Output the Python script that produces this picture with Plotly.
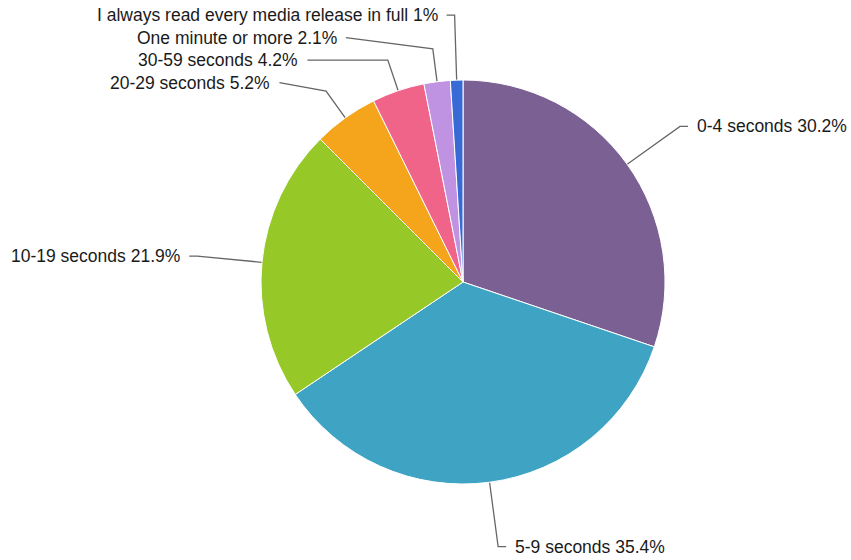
import math
import plotly.graph_objects as go

labels = ["0-4 seconds", "5-9 seconds", "10-19 seconds", "20-29 seconds",
          "30-59 seconds", "One minute or more", "I always read every media release in full"]
values = [30.2, 35.4, 21.9, 5.2, 4.2, 2.1, 1.0]
value_text = ["30.2%", "35.4%", "21.9%", "5.2%", "4.2%", "2.1%", "1%"]
colors = ["#7B6094", "#3FA3C3", "#96C828", "#F5A51B", "#F0648A", "#C092E2", "#386AD5"]

W, H = 851, 560
CX, CY, R = 463, 282, 202
LAB_R = 267      # natural label radius
END_R = 271      # connector end radius for pushed labels
GAP = 22.5       # min vertical spacing between labels
FONT = dict(family="Liberation Sans, Arial, Helvetica, sans-serif", size=17.5, color="#1a1a1a")

fig = go.Figure()
fig.add_trace(go.Pie(
    labels=labels, values=values, sort=False, direction="clockwise", rotation=0,
    marker=dict(colors=colors, line=dict(color="#ffffff", width=1)),
    textinfo="none", hoverinfo="label+percent", showlegend=False,
    domain=dict(x=[(CX - R) / W, (CX + R) / W], y=[1 - (CY + R) / H, 1 - (CY - R) / H]),
))

# slice mid-angles (clockwise from 12 o'clock)
total = sum(values)
cum = 0
info = []
for i, v in enumerate(values):
    mid = (cum + v / 2) / total * 2 * math.pi
    cum += v
    s, c = math.sin(mid), math.cos(mid)
    info.append(dict(i=i, s=s, c=c, ny=CY - LAB_R * c, right=s >= 0))

# push labels apart on each side (top to bottom)
for side in (True, False):
    grp = sorted([d for d in info if d["right"] == side], key=lambda d: d["ny"])
    prev = None
    for d in grp:
        y = d["ny"] if prev is None else max(d["ny"], prev + GAP)
        d["y"] = y
        d["pushed"] = abs(y - d["ny"]) > 0.5
        prev = y

for d in info:
    s, c, y = d["s"], d["c"], d["y"]
    ex, ey = CX + R * s, CY - R * c
    if d["pushed"]:
        need = abs(ey - y) / max(abs(c), 1e-6)
        ext = min(need, 33)
    else:
        ext = LAB_R - R
    bx, by = CX + (R + ext) * s, CY - (R + ext) * c
    sign = 1 if d["right"] else -1
    if d["pushed"]:
        dy = y - CY
        lx = CX + sign * math.sqrt(max(END_R ** 2 - dy ** 2, 0))
    else:
        lx = bx + sign * 8
    fig.add_trace(go.Scatter(
        x=[ex, bx, lx], y=[ey, by, y], mode="lines",
        line=dict(color="#666666", width=1.3), hoverinfo="skip", showlegend=False,
    ))
    fig.add_annotation(
        x=lx + sign * 7, y=y, xref="x", yref="y",
        text=f"{labels[d['i']]} {value_text[d['i']]}", showarrow=False,
        xanchor="left" if d["right"] else "right", yanchor="middle", font=FONT,
    )

fig.update_layout(
    width=W, height=H, margin=dict(l=0, r=0, t=0, b=0),
    paper_bgcolor="#ffffff", plot_bgcolor="rgba(0,0,0,0)",
    xaxis=dict(range=[0, W], visible=False, fixedrange=True),
    yaxis=dict(range=[H, 0], visible=False, fixedrange=True),
    showlegend=False,
)
fig.write_html("out.html", config={"displayModeBar": False},
               post_script="document.body.style.margin='0';document.body.style.overflow='hidden';")
